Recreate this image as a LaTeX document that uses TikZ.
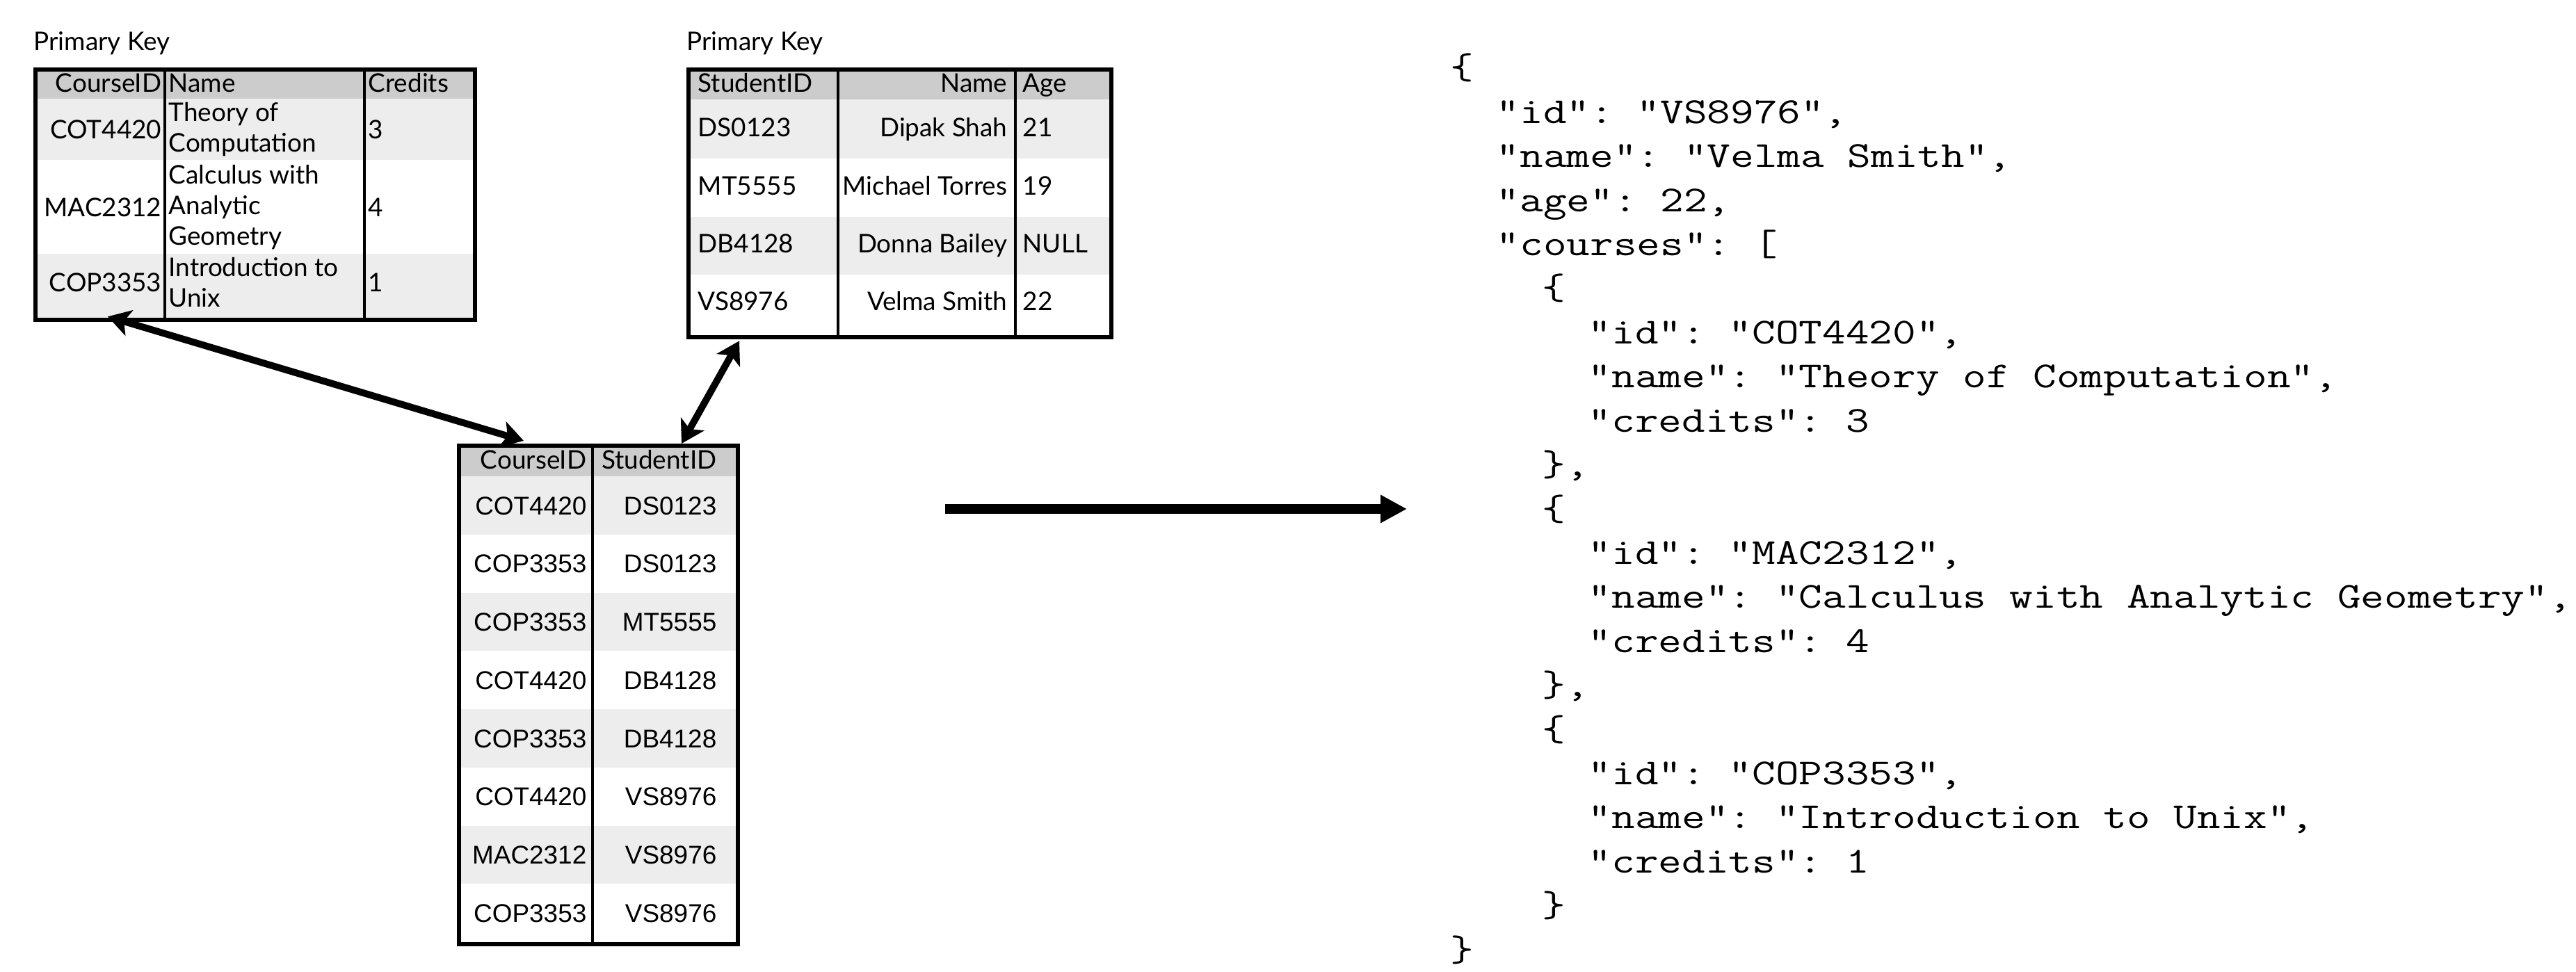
\documentclass[tikz,border=0pt]{standalone}
\usepackage{fontspec}
\usetikzlibrary{arrows.meta}
\newfontfamily\sketchfont{Lato}
\newfontfamily\plainfont{Liberation Sans}

\definecolor{headgray}{gray}{0.80}
\definecolor{rowgray}{gray}{0.93}
\tikzstyle{frame}=[draw, line width=1.8pt, inner sep=0pt, anchor=north west]
\tikzstyle{colline}=[line width=1.4pt]
\tikzstyle{cell}=[inner sep=0pt, font=\sketchfont\fontsize{10.5}{12.5}\selectfont]
\tikzstyle{cellr}=[cell, anchor=east, text height=7.5pt, text depth=0pt]
\tikzstyle{celll}=[cell, anchor=west, text height=7.5pt, text depth=0pt]
\tikzstyle{cellwrap}=[cell, anchor=west, align=left]
\tikzstyle{enrollcell}=[inner sep=0pt, anchor=east, text height=7.5pt,
                        text depth=0pt, font=\plainfont\fontsize{10.5}{12.5}\selectfont]
\tikzstyle{link}=[line width=2.8pt,
                  {Stealth[length=3.2mm,width=3.8mm,inset=0.8mm]}-{Stealth[length=3.2mm,width=3.8mm,inset=0.8mm]}]
\tikzstyle{mapsto}=[line width=3.7pt, -{Triangle[length=3.8mm,width=3.8mm]}]
\tikzstyle{jsonline}=[inner sep=0pt, anchor=base west,
                      font=\ttfamily\frenchspacing\fontsize{15}{18}\selectfont]

\begin{document}
\begin{tikzpicture}
  \useasboundingbox (0,0) rectangle (37.04,-13.98);
  % Courses table
  \fill[headgray] (0.48,-0.97) rectangle (6.80,-1.42);
  \fill[rowgray] (0.48,-1.42) rectangle (6.80,-2.30);
  \fill[rowgray] (0.48,-3.65) rectangle (6.80,-4.57);
  \node[frame, minimum width=6.32cm, minimum height=3.60cm] (courses) at (0.48,-0.97) {};
  \draw[colline] (2.37,-0.97) -- (2.37,-4.57) (5.24,-0.97) -- (5.24,-4.57);
  \node[celll] (ckey) at (0.48,-0.59) {Primary Key};
  \node[cellr] (chid) at (2.33,-1.19) {CourseID};
  \node[celll] (chname) at (2.42,-1.19) {Name};
  \node[celll] (chcred) at (5.29,-1.19) {Credits};
  \foreach \y/\cid/\cname/\cred [count=\i] in {-1.86/COT4420/{Theory of\\Computation}/3,
           -2.98/MAC2312/{Calculus with\\Analytic\\Geometry}/4, -4.06/COP3353/{Introduction to\\Unix}/1}
  {
    \node[cellr] (cid\i) at (2.33,\y) {\cid};
    \node[cellwrap] (cname\i) at (2.42,\y) {\cname};
    \node[celll] (ccred\i) at (5.29,\y) {\cred};
  }
  %
  % Students table
  \fill[headgray] (9.87,-0.97) rectangle (15.95,-1.43);
  \fill[rowgray] (9.87,-1.43) rectangle (15.95,-2.28);
  \fill[rowgray] (9.87,-3.12) rectangle (15.95,-3.95);
  \node[frame, minimum width=6.08cm, minimum height=3.85cm] (students) at (9.87,-0.97) {};
  \draw[colline] (12.05,-0.97) -- (12.05,-4.82) (14.60,-0.97) -- (14.60,-4.82);
  \node[celll] (skey) at (9.87,-0.59) {Primary Key};
  \node[celll] (shid) at (10.03,-1.19) {StudentID};
  \node[cellr] (shname) at (14.49,-1.19) {Name};
  \node[celll] (shage) at (14.70,-1.19) {Age};
  \foreach \y/\sid/\sname/\sage [count=\i] in {-1.83/DS0123/Dipak Shah/21,
           -2.67/MT5555/Michael Torres/19, -3.50/DB4128/Donna Bailey/NULL, -4.33/VS8976/Velma Smith/22}
  {
    \node[celll] (sid\i) at (10.03,\y) {\sid};
    \node[cellr] (sname\i) at (14.49,\y) {\sname};
    \node[celll] (sage\i) at (14.70,\y) {\sage};
  }
  %
  % Enrollment table
  \fill[headgray] (6.57,-6.38) rectangle (10.58,-6.85);
  \foreach \k in {0,2,4,6}
    \fill[rowgray] (6.57,{-6.85-0.8375*\k}) rectangle (10.58,{-6.85-0.8375*(\k+1)});
  \node[frame, minimum width=4.01cm, minimum height=7.17cm] (enroll) at (6.57,-6.38) {};
  \draw[colline] (8.52,-6.38) -- (8.52,-13.55);
  \node[cellr] (ehcid) at (8.44,-6.615) {CourseID};
  \node[cellr] (ehsid) at (10.31,-6.615) {StudentID};
  \foreach \cid/\sid [count=\i] in {COT4420/DS0123, COP3353/DS0123, COP3353/MT5555,
           COT4420/DB4128, COP3353/DB4128, COT4420/VS8976, MAC2312/VS8976, COP3353/VS8976}
  {
    \node[enrollcell] (ecid\i) at (8.44,{-6.85-0.8375*(\i-0.5)}) {\cid};
    \node[enrollcell] (esid\i) at (10.31,{-6.85-0.8375*(\i-0.5)}) {\sid};
  }
  %
  % Links between the tables
  \draw[link] ([shift={(1.07,0.08)}]courses.south west) -- ([shift={(0.96,0.04)}]enroll.north west);
  \draw[link] ([shift={(0.76,-0.02)}]students.south west) -- ([shift={(3.23,0.00)}]enroll.north west);
  %
  % Mapping arrow
  \coordinate (mapfrom) at (13.59,-7.32);
  \coordinate (mapto) at (20.23,-7.32);
  \draw[mapsto] (mapfrom) -- (mapto);
  %
  % JSON document
  \foreach \lvl/\txt [count=\n] in {0/\{, 1/{"id": "VS8976",}, 1/{"name": "Velma Smith",},
           1/{"age": 22,}, 1/{"courses": [}, 2/\{, 3/{"id": "COT4420",},
           3/{"name": "Theory of Computation",}, 3/{"credits": 3}, 2/{\},}, 2/\{,
           3/{"id": "MAC2312",}, 3/{"name": "Calculus with Analytic Geometry",},
           3/{"credits": 4}, 2/{\},}, 2/\{, 3/{"id": "COP3353",},
           3/{"name": "Introduction to Unix",}, 3/{"credits": 1}, 2/\}, 0/\}}
    \node[jsonline] (json\n) at ({20.85+0.66*\lvl},{-1.14-0.634*(\n-1)}) {\scalebox{1.24}[1]{\txt}};
\end{tikzpicture}
\end{document}
